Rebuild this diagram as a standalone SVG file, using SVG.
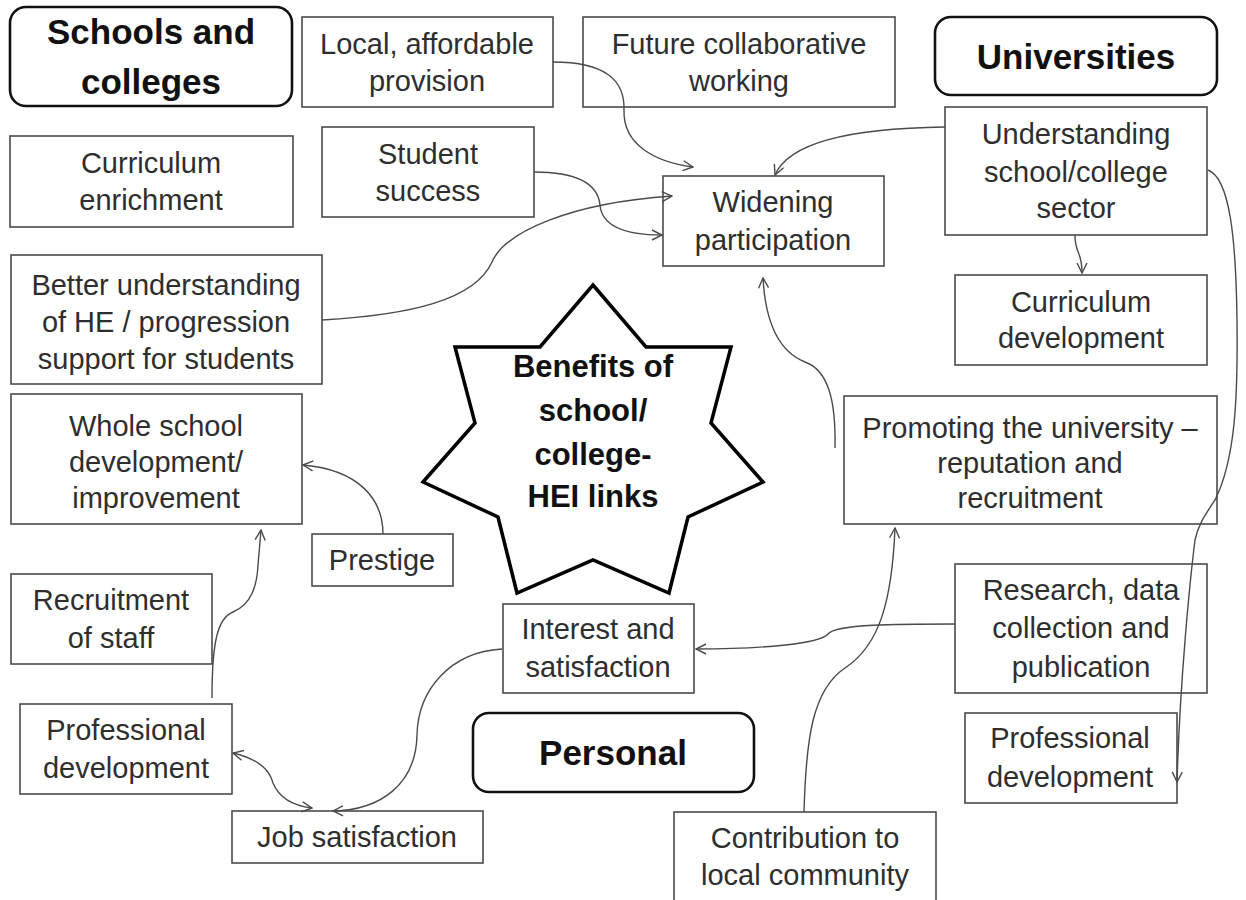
<svg xmlns="http://www.w3.org/2000/svg" width="1246" height="900" viewBox="0 0 1246 900">
<defs>
<style>
.box{fill:#fff;stroke:#4a4a4a;stroke-width:1.6}
.hdr{fill:#fff;stroke:#111;stroke-width:2.6}
.t{font-family:"Liberation Sans",Arial,sans-serif;font-size:29px;fill:#2e2e2e;text-anchor:middle}
.h{font-family:"Liberation Sans",Arial,sans-serif;font-size:35px;font-weight:bold;fill:#111;text-anchor:middle}
.s{font-family:"Liberation Sans",Arial,sans-serif;font-size:31px;font-weight:bold;fill:#111;text-anchor:middle}
.c{fill:none;stroke:#4a4a4a;stroke-width:1.4}
.a{marker-end:url(#ah)}
.aa{marker-start:url(#ah);marker-end:url(#ah)}
</style>
<marker id="ah" viewBox="0 0 12 12" refX="11" refY="6" markerWidth="12" markerHeight="12" markerUnits="userSpaceOnUse" orient="auto-start-reverse">
<path d="M1,1 L11,6 L1,11" fill="none" stroke="#4a4a4a" stroke-width="1.4"/>
</marker>
</defs>
<rect width="1246" height="900" fill="#fff"/>

<g id="schools-colleges">
<rect class="hdr" x="10" y="7" width="282" height="99" rx="16"/>
<text class="h" x="151" y="44">Schools and</text>
<text class="h" x="151" y="94">colleges</text>
</g>

<g id="local-provision">
<rect class="box" x="302" y="17" width="251" height="90"/>
<text class="t" x="427" y="54">Local, affordable</text>
<text class="t" x="427" y="91">provision</text>
</g>

<g id="future-working">
<rect class="box" x="583" y="17" width="312" height="90"/>
<text class="t" x="739" y="54">Future collaborative</text>
<text class="t" x="739" y="91">working</text>
</g>

<g id="universities">
<rect class="hdr" x="935" y="17" width="282" height="78" rx="16"/>
<text class="h" x="1076" y="69">Universities</text>
</g>

<g id="curriculum-enrichment">
<rect class="box" x="10" y="136" width="283" height="91"/>
<text class="t" x="151" y="173">Curriculum</text>
<text class="t" x="151" y="210">enrichment</text>
</g>

<g id="student-success">
<rect class="box" x="322" y="127" width="212" height="90"/>
<text class="t" x="428" y="164">Student</text>
<text class="t" x="428" y="201">success</text>
</g>

<g id="widening-participation">
<rect class="box" x="663" y="176" width="221" height="90"/>
<text class="t" x="773" y="212">Widening</text>
<text class="t" x="773" y="250">participation</text>
</g>

<g id="understanding-sector">
<rect class="box" x="945" y="107" width="262" height="128"/>
<text class="t" x="1076" y="144">Understanding</text>
<text class="t" x="1076" y="182">school/college</text>
<text class="t" x="1076" y="218">sector</text>
</g>

<g id="curriculum-development">
<rect class="box" x="955" y="275" width="252" height="90"/>
<text class="t" x="1081" y="312">Curriculum</text>
<text class="t" x="1081" y="348">development</text>
</g>

<g id="better-understanding">
<rect class="box" x="11" y="255" width="311" height="129"/>
<text class="t" x="166" y="295">Better understanding</text>
<text class="t" x="166" y="332">of HE / progression</text>
<text class="t" x="166" y="369">support for students</text>
</g>

<g id="whole-school">
<rect class="box" x="11" y="394" width="291" height="130"/>
<text class="t" x="156" y="436">Whole school</text>
<text class="t" x="156" y="472">development/</text>
<text class="t" x="156" y="508">improvement</text>
</g>

<g id="benefits-star">
<polygon points="593,285 646,347 731,347 711,423 763,482 688,517 669,593 593,560 517,593 498,517 423,482 475,423 455,347 540,347" fill="#fff" stroke="#000" stroke-width="3.5" stroke-linejoin="miter"/>
<text class="s" x="593" y="377">Benefits of</text>
<text class="s" x="593" y="421">school/</text>
<text class="s" x="593" y="465">college-</text>
<text class="s" x="593" y="507">HEI links</text>
</g>

<g id="promoting-university">
<rect class="box" x="844" y="396" width="373" height="128"/>
<text class="t" x="1030" y="438">Promoting the university –</text>
<text class="t" x="1030" y="473">reputation and</text>
<text class="t" x="1030" y="508">recruitment</text>
</g>

<g id="prestige">
<rect class="box" x="312" y="534" width="141" height="52"/>
<text class="t" x="382" y="570">Prestige</text>
</g>

<g id="recruitment-staff">
<rect class="box" x="11" y="574" width="201" height="90"/>
<text class="t" x="111" y="610">Recruitment</text>
<text class="t" x="111" y="648">of staff</text>
</g>

<g id="interest-satisfaction">
<rect class="box" x="503" y="604" width="191" height="89"/>
<text class="t" x="598" y="639">Interest and</text>
<text class="t" x="598" y="677">satisfaction</text>
</g>

<g id="research-data">
<rect class="box" x="955" y="564" width="252" height="129"/>
<text class="t" x="1081" y="600">Research, data</text>
<text class="t" x="1081" y="638">collection and</text>
<text class="t" x="1081" y="677">publication</text>
</g>

<g id="professional-development-school">
<rect class="box" x="20" y="704" width="212" height="90"/>
<text class="t" x="126" y="740">Professional</text>
<text class="t" x="126" y="778">development</text>
</g>

<g id="personal">
<rect class="hdr" x="473" y="713" width="281" height="79" rx="16"/>
<text class="h" x="613" y="765">Personal</text>
</g>

<g id="professional-development-university">
<rect class="box" x="965" y="713" width="212" height="90"/>
<text class="t" x="1070" y="748">Professional</text>
<text class="t" x="1070" y="787">development</text>
</g>

<g id="job-satisfaction">
<rect class="box" x="232" y="811" width="251" height="52"/>
<text class="t" x="357" y="847">Job satisfaction</text>
</g>

<g id="contribution-community">
<rect class="box" x="674" y="812" width="262" height="100"/>
<text class="t" x="805" y="848">Contribution to</text>
<text class="t" x="805" y="885">local community</text>
</g>

<g id="connectors">
<path class="c a" d="M553,62 C605,62 625,80 624,110 C623,145 655,162 693,167"/>
<path class="c a" d="M534,172 C580,172 598,185 600,205 C602,228 630,235 662,235"/>
<path class="c a" d="M322,320 C410,315 475,300 492,262 C505,232 570,203 672,196"/>
<path class="c a" d="M945,127 C860,128 790,140 775,175"/>
<path class="c a" d="M1075,235 C1075,255 1082,250 1082,273"/>
<path class="c a" d="M1208,170 C1230,178 1236,240 1237,320 C1238,400 1235,460 1215,500 C1205,515 1198,525 1195,540 C1190,580 1180,680 1177,782"/>
<path class="c a" d="M835,448 C836,400 828,370 805,362 C775,350 765,315 763,278"/>
<path class="c a" d="M804,812 C806,740 812,690 845,668 C880,645 892,600 895,528"/>
<path class="c a" d="M955,624 C900,624 835,624 828,634 C820,644 760,649 696,649"/>
<path class="c a" d="M502,649 C450,652 418,690 417,735 C416,785 380,810 333,811"/>
<path class="c aa" d="M233,753 C262,760 270,772 273,783 C280,800 295,806 312,808"/>
<path class="c a" d="M212,698 C212,640 218,618 233,612 C252,604 257,585 258,565 L261,530"/>
<path class="c a" d="M383,534 C383,500 360,470 303,465"/>
</g>
</svg>
